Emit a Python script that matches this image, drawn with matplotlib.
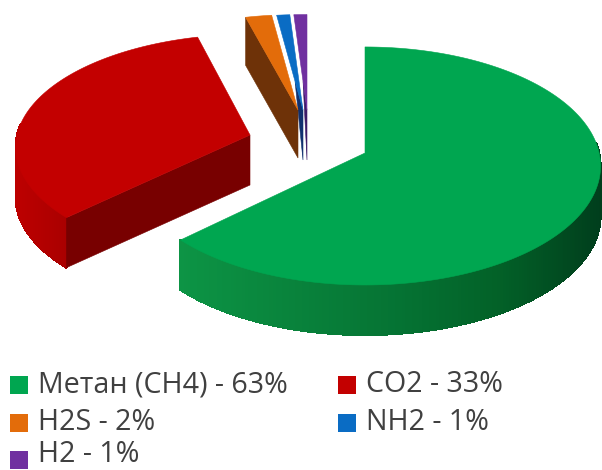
import numpy as np
import matplotlib
matplotlib.use("Agg")
import matplotlib.pyplot as plt
from matplotlib.patches import Polygon, Rectangle

plt.rcParams['font.family'] = ['Open Sans', 'DejaVu Sans']

names = ['Метан (CH4)', 'CO2', 'H2S', 'NH2', 'H2']
values = [63, 33, 2, 1, 1]

top_colors = ['#00a650', '#c30000', '#e36c0a', '#0a6cc4', '#7030a0']
radial_colors = [None, '#780000', '#6e3208', '#10306e', '#3c1a66']

# where each slice's tip ends up in the picture (pixels)
apex = [(365, 153), (250, 135), (298, 110), (303, 110), (307, 110)]
depth = [50, 50, 48, 50, 50]
# small per slice fixes, the slices sit at different places in the perspective
x_scale = [1.005, 1.0, 1.0, 1.0, 1.0]
y_scale = [1.0, 0.95, 0.9, 0.9, 0.9]
# how far up the left edge the dark side is seen
side_reach = [0, 1.0, 1.0, 0.3, 0.3]

A, B, K = 233.0, 117.6, 0.109


def project(theta, i):
    # clockwise from 12 o'clock, with a bit of perspective
    u, v = np.sin(theta), np.cos(theta)
    w = 1 + K * v
    return (apex[i][0] + x_scale[i] * A * u / w,
            apex[i][1] - y_scale[i] * B * v / w)


def wall_color(i, x):
    if i == 0:
        return (np.interp(x, [181, 400, 602], [0.05, 0.02, 0.0]),
                np.interp(x, [181, 400, 500, 602], [0.58, 0.45, 0.38, 0.24]),
                np.interp(x, [181, 400, 602], [0.27, 0.2, 0.11]))
    return (np.interp(x, [15, 70], [0.74, 0.66]), 0.0, 0.0)


fig = plt.figure(figsize=(6.02, 4.70), dpi=100)
ax = fig.add_axes([0, 0, 1, 1])
ax.set_xlim(0, 602)
ax.set_ylim(470, 0)
ax.axis('off')

edges = np.radians(np.cumsum([0] + values) * 3.6)

# back to front, the thin slices hide each other's sides
for i in reversed(range(len(values))):
    thetas = np.linspace(edges[i], edges[i + 1], 300)
    xs, ys = project(thetas, i)
    d = depth[i]
    tip = apex[i]

    # outer wall, only the part facing us
    if i < 2:
        for j in range(len(thetas) - 1):
            if np.cos(thetas[j]) > 0.1:
                continue
            c = wall_color(i, xs[j])
            quad = [(xs[j], ys[j]), (xs[j + 1], ys[j + 1]),
                    (xs[j + 1], ys[j + 1] + d), (xs[j], ys[j] + d)]
            ax.add_patch(Polygon(quad, facecolor=c, edgecolor=c, lw=0.8,
                                 antialiased=False))

    # radial side on the left of the slice
    if radial_colors[i]:
        if side_reach[i] == 1.0:
            side = [tip, (xs[0], ys[0]), (xs[0], ys[0] + d), (tip[0], tip[1] + d)]
        else:
            f = side_reach[i]
            side = [tip, (tip[0] + f * (xs[0] - tip[0]), tip[1] + f * (ys[0] - tip[1])),
                    (tip[0], tip[1] + d)]
        ax.add_patch(Polygon(side, facecolor=radial_colors[i],
                             edgecolor=radial_colors[i], lw=0.4))

    face = [tip] + list(zip(xs, ys))
    ax.add_patch(Polygon(face, facecolor=top_colors[i],
                         edgecolor=top_colors[i], lw=0.4))

# legend, written row by row like the original
leg_x = [10, 338, 10, 338, 10]
leg_y = [385, 385, 423, 423, 460]
text_y = [385, 385, 423, 423, 455]
for i in range(len(names)):
    ax.add_patch(Rectangle((leg_x[i], leg_y[i] - 9), 18, 18,
                           facecolor=top_colors[i], edgecolor='none'))
    ax.text(leg_x[i] + 28, text_y[i], f"{names[i]} - {values[i]}%",
            fontsize=20.6, color='#404040', va='center', ha='left')

fig.savefig('out.png', dpi=100)
